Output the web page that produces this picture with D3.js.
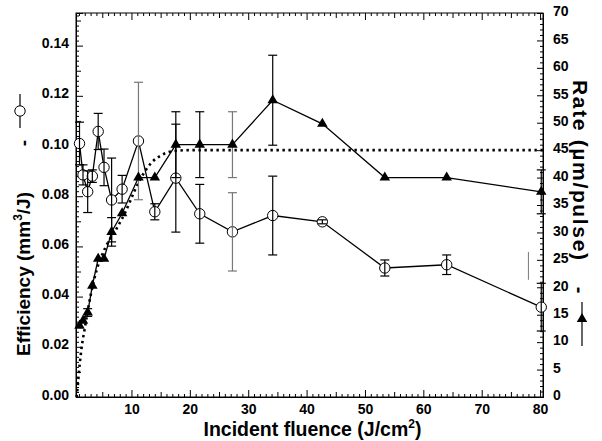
<!DOCTYPE html>
<html>
<head>
<meta charset="utf-8">
<script src="https://cdn.jsdelivr.net/npm/d3@7"></script>
<style>
  body { margin: 0; background: #fff; }
  svg { display: block; font-family: "Liberation Sans", Arial, sans-serif; font-weight: bold; }
  .axis path, .axis line { stroke: #000; stroke-width: 1; }
  .axis text { font-size: 14px; font-weight: bold; fill: #000; }
</style>
</head>
<body>
<div id="chart"></div>
<script>
// fluence (J/cm2) shared by both series
const fluence = [1.1, 1.7, 2.5, 3.3, 4.3, 5.3, 6.6, 8.4, 11.2, 14.0, 17.6, 21.7, 27.3, 34.2, 42.7, 53.4, 64.0, 80.2];
// efficiency (mm3/J), open circles, left axis
const efficiency = [0.101, 0.0885, 0.0818, 0.0880, 0.1058, 0.0915, 0.0785, 0.0828, 0.1020, 0.0738, 0.0872, 0.0730, 0.0658, 0.0723, 0.0698, 0.0514, 0.0527, 0.0358];
const efficiencyErr = [0.0085, 0.004, 0.0083, 0.0025, 0.0072, 0.0073, 0.0167, 0.0055, 0.0234, 0.0032, 0.0215, 0.0117, 0.0156, 0.0157, 0.0008, 0.0032, 0.0039, 0.0095];
// rate (um/pulse), filled triangles, right axis
const rate = [13.0, 13.9, 15.4, 20.3, 25.2, 25.2, 30.1, 33.5, 40.0, 40.0, 46.0, 46.0, 46.0, 54.1, 49.8, 40.0, 40.0, 37.4];
const rateErr = [0, 0, 0.7, 0, 0, 0, 2.6, 0, 0, 0, 6, 6, 6, 8.2, 0, 0, 0, 4];
// dotted model curve (rate axis)
const fitX = [0.6, 0.8, 1.0, 1.4, 2.0, 3.0, 4.0, 5.0, 6.0, 7.5, 9.0, 10.5, 12.0, 13.5, 15.0, 17.0, 20.0, 80.5];
const fitY = [0, 2, 4.5, 8.5, 12.5, 18.5, 23.0, 26.0, 28.2, 30.8, 33.8, 37.5, 40.6, 42.8, 44.0, 44.8, 45.0, 45.0];
// lone vertical stroke near the right edge (efficiency axis)
const strayX = 78;
const strayRange = [0.0467, 0.0578];

const leftTicks = [0, 0.02, 0.04, 0.06, 0.08, 0.10, 0.12, 0.14];
const rightTicks = d3.range(0, 71, 5);
const bottomTicks = [10, 20, 30, 40, 50, 60, 70, 80];

const width = 602, height = 441;
const margin = { left: 76, right: 59, top: 13, bottom: 44 };

const svg = d3.select('#chart').append('svg')
    .attr('width', width)
    .attr('height', height);

const x = d3.scaleLinear().domain([0.5, 80.5]).range([margin.left, width - margin.right]);
const yL = d3.scaleLinear().domain([0, 0.153]).range([height - margin.bottom, margin.top]);
const yR = d3.scaleLinear().domain([0, 70]).range([height - margin.bottom, margin.top]);

const x0 = margin.left, x1 = width - margin.right;
const y0 = height - margin.bottom, y1 = margin.top;

// minor / mid ticks first, then major axes with labels
function ticksOnly(axis, values, size, transform) {
    svg.append('g').attr('class', 'axis').attr('transform', transform)
        .call(axis.tickValues(values).tickSize(size).tickFormat(''))
        .call(g => g.select('.domain').remove());
}
const xMinor = d3.range(1, 81).filter(v => v % 5 !== 0);
const xMid = d3.range(5, 81, 10);
ticksOnly(d3.axisBottom(x), xMinor, -3, `translate(0,${y0})`);
ticksOnly(d3.axisBottom(x), xMid, -5, `translate(0,${y0})`);
ticksOnly(d3.axisTop(x), xMinor, -3, `translate(0,${y1})`);
ticksOnly(d3.axisTop(x), xMid, -5, `translate(0,${y1})`);
ticksOnly(d3.axisTop(x), bottomTicks, -7, `translate(0,${y1})`);

const lMinor = d3.range(0, 153, 2).map(v => v / 1000).filter((v, i) => i % 5 !== 0);
const lMid = d3.range(10, 153, 20).map(v => v / 1000);
ticksOnly(d3.axisLeft(yL), lMinor, -3, `translate(${x0},0)`);
ticksOnly(d3.axisLeft(yL), lMid, -5, `translate(${x0},0)`);

const rMinor = d3.range(0, 71).filter(v => v % 5 !== 0);
ticksOnly(d3.axisRight(yR), rMinor, -3, `translate(${x1},0)`);

svg.append('g').attr('class', 'axis')
    .attr('transform', `translate(0,${y0})`)
    .call(d3.axisBottom(x).tickValues(bottomTicks).tickSize(-7).tickPadding(7).tickFormat(d3.format('d')));

svg.append('g').attr('class', 'axis')
    .attr('transform', `translate(${x0},0)`)
    .call(d3.axisLeft(yL).tickValues(leftTicks).tickSize(-7).tickPadding(7).tickFormat(d3.format('.2f')))
    .call(g => g.selectAll('text').attr('dy', '0.15em'));

svg.append('g').attr('class', 'axis')
    .attr('transform', `translate(${x1},0)`)
    .call(d3.axisRight(yR).tickValues(rightTicks).tickSize(-6).tickPadding(10).tickFormat(d3.format('d')))
    .call(g => g.selectAll('text').attr('dy', '0.2em'));

// frame
svg.append('rect')
    .attr('x', x0).attr('y', y1)
    .attr('width', x1 - x0).attr('height', y0 - y1)
    .attr('fill', 'none').attr('stroke', '#000');

// dotted curve
const fitData = fitX.map((v, i) => ({ x: v, y: fitY[i] }));
svg.append('path')
    .datum(fitData)
    .attr('d', d3.line().x(d => x(d.x)).y(d => yR(d.y)).curve(d3.curveMonotoneX))
    .attr('fill', 'none')
    .attr('stroke', '#000')
    .attr('stroke-width', 2.6)
    .attr('stroke-dasharray', '2.4 3.6');

const effData = fluence.map((v, i) => ({ x: v, y: efficiency[i], e: efficiencyErr[i], i: i }));
const rateData = fluence.map((v, i) => ({ x: v, y: rate[i], e: rateErr[i], i: i }));

// connecting lines
svg.append('path').datum(effData)
    .attr('d', d3.line().x(d => x(d.x)).y(d => yL(d.y)))
    .attr('fill', 'none').attr('stroke', '#000').attr('stroke-width', 1.3);
svg.append('path').datum(rateData)
    .attr('d', d3.line().x(d => x(d.x)).y(d => yR(d.y)))
    .attr('fill', 'none').attr('stroke', '#000').attr('stroke-width', 1.3);

// error bars
const grayBars = new Set([8, 12]);
function errorBars(data, y, cls) {
    const g = svg.append('g').attr('class', cls)
        .selectAll('g').data(data.filter(d => d.e > 0)).join('g')
        .attr('stroke', d => grayBars.has(d.i) ? '#777' : '#000')
        .attr('stroke-width', 1.2);
    g.append('line')
        .attr('x1', d => x(d.x)).attr('x2', d => x(d.x))
        .attr('y1', d => y(d.y - d.e)).attr('y2', d => y(d.y + d.e));
    g.append('line')
        .attr('x1', d => x(d.x) - 4.5).attr('x2', d => x(d.x) + 4.5)
        .attr('y1', d => y(d.y - d.e)).attr('y2', d => y(d.y - d.e));
    g.append('line')
        .attr('x1', d => x(d.x) - 4.5).attr('x2', d => x(d.x) + 4.5)
        .attr('y1', d => y(d.y + d.e)).attr('y2', d => y(d.y + d.e));
}

// markers
svg.append('g').selectAll('circle').data(effData).join('circle')
    .attr('cx', d => x(d.x)).attr('cy', d => yL(d.y)).attr('r', 5.2)
    .attr('fill', '#fff').attr('stroke', '#000').attr('stroke-width', 1);

errorBars(effData, yL, 'eff-err');
errorBars(rateData, yR, 'rate-err');

const tri = d3.symbol().type(d3.symbolTriangle).size(48);
svg.append('g').selectAll('path').data(rateData).join('path')
    .attr('transform', d => `translate(${x(d.x)},${yR(d.y)})`)
    .attr('d', tri).attr('fill', '#000');

// stray stroke
svg.append('line')
    .attr('x1', x(strayX)).attr('x2', x(strayX))
    .attr('y1', yL(strayRange[0])).attr('y2', yL(strayRange[1]))
    .attr('stroke', '#777').attr('stroke-width', 1);

// axis titles
svg.append('text')
    .attr('x', (x0 + x1) / 2 + 3).attr('y', 436)
    .attr('text-anchor', 'middle')
    .style('font-size', '19.5px')
    .html('Incident fluence (J/cm<tspan dy="-8" font-size="12px">2</tspan><tspan dy="8">)</tspan>');

svg.append('text')
    .attr('transform', 'translate(30,356) rotate(-90)')
    .style('font-size', '19px')
    .html('Efficiency (mm<tspan dy="-8" font-size="12px">3</tspan><tspan dy="8">/J)</tspan>');
svg.append('text')
    .attr('transform', 'translate(30,143) rotate(-90)')
    .attr('text-anchor', 'middle')
    .style('font-size', '19px')
    .text('-');

// left legend glyph: line with open circle
svg.append('line').attr('x1', 20).attr('x2', 20).attr('y1', 94).attr('y2', 128)
    .attr('stroke', '#000').attr('stroke-width', 1.2);
svg.append('circle').attr('cx', 20).attr('cy', 111).attr('r', 5.2)
    .attr('fill', '#fff').attr('stroke', '#000');

svg.append('text')
    .attr('transform', 'translate(573,80) rotate(90)')
    .style('font-size', '21px')
    .attr('textLength', 180)
    .attr('lengthAdjust', 'spacing')
    .text('Rate (\u00b5m/pulse)');
svg.append('text')
    .attr('transform', 'translate(573,290) rotate(90)')
    .attr('text-anchor', 'middle')
    .style('font-size', '20px')
    .text('-');

// right legend glyph: line with filled triangle
svg.append('line').attr('x1', 582).attr('x2', 582).attr('y1', 302).attr('y2', 346)
    .attr('stroke', '#000').attr('stroke-width', 1.2);
svg.append('path').attr('transform', 'translate(582,319)')
    .attr('d', tri).attr('fill', '#000');
</script>
</body>
</html>
